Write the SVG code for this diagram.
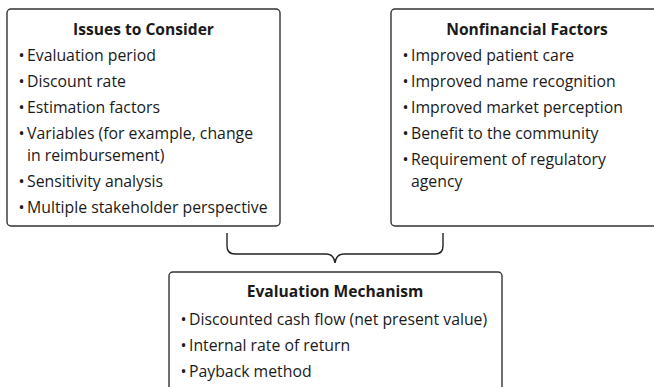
<svg xmlns="http://www.w3.org/2000/svg" width="654" height="387" viewBox="0 0 654 387">
  <style>
    .box { fill: #ffffff; stroke: #333333; stroke-width: 1.4; }
    .title { font-family: "Open Sans", "Noto Sans", sans-serif; font-size: 15.6px; font-weight: bold; fill: #1a1a1a; text-anchor: middle; }
    .item { font-family: "Open Sans", "Noto Sans", sans-serif; font-size: 15.8px; fill: #1a1a1a; }
    .dot { font-family: "Open Sans", "Noto Sans", sans-serif; font-size: 16px; fill: #1a1a1a; text-anchor: middle; }
    .brace { fill: none; stroke: #222222; stroke-width: 1.4; }
  </style>
  <rect width="654" height="387" fill="#ffffff"/>

  <g id="issues">
    <rect class="box" x="7" y="9" width="273" height="217" rx="4"/>
    <text class="title" x="143.5" y="35">Issues to Consider</text>
    <g class="dot">
      <text x="21.5" y="61">•</text><text x="21.5" y="87">•</text><text x="21.5" y="113">•</text>
      <text x="21.5" y="139">•</text><text x="21.5" y="187">•</text><text x="21.5" y="213">•</text>
    </g>
    <text class="item" x="27" y="61">Evaluation period</text>
    <text class="item" x="27" y="87">Discount rate</text>
    <text class="item" x="27" y="113">Estimation factors</text>
    <text class="item" x="27" y="139">Variables (for example, change</text>
    <text class="item" x="27" y="161">in reimbursement)</text>
    <text class="item" x="27" y="187">Sensitivity analysis</text>
    <text class="item" x="27" y="213">Multiple stakeholder perspective</text>
  </g>

  <g id="nonfinancial">
    <rect class="box" x="391" y="9" width="272" height="217" rx="4"/>
    <text class="title" x="527" y="35">Nonfinancial Factors</text>
    <g class="dot">
      <text x="405.5" y="61">•</text><text x="405.5" y="87">•</text><text x="405.5" y="113">•</text>
      <text x="405.5" y="139">•</text><text x="405.5" y="165">•</text>
    </g>
    <text class="item" x="411" y="61">Improved patient care</text>
    <text class="item" x="411" y="87">Improved name recognition</text>
    <text class="item" x="411" y="113">Improved market perception</text>
    <text class="item" x="411" y="139">Benefit to the community</text>
    <text class="item" x="411" y="165">Requirement of regulatory</text>
    <text class="item" x="411" y="187">agency</text>
  </g>

  <g id="connectors">
    <path class="brace" d="M227,233 V246 Q227,254 235,254 H326 Q334,254 335,263 Q336,254 344,254 H435 Q443,254 443,246 V233"/>
  </g>

  <g id="mechanism">
    <rect class="box" x="169" y="272" width="333" height="130" rx="4"/>
    <text class="title" x="335" y="297">Evaluation Mechanism</text>
    <g class="dot">
      <text x="183.5" y="325">•</text><text x="183.5" y="351">•</text><text x="183.5" y="377">•</text>
    </g>
    <text class="item" x="189" y="325">Discounted cash flow (net present value)</text>
    <text class="item" x="189" y="351">Internal rate of return</text>
    <text class="item" x="189" y="377">Payback method</text>
  </g>
</svg>
